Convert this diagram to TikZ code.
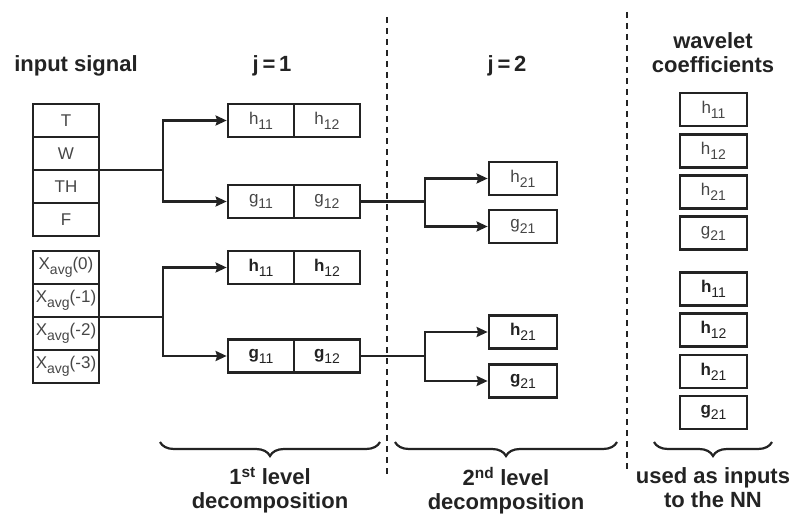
\documentclass[tikz,border=0pt]{standalone}
\usepackage{fontspec}
\setmainfont{Liberation Sans}
\usepackage{tikz}
\usetikzlibrary{arrows.meta,positioning,decorations.pathreplacing}
\definecolor{ink}{RGB}{35,35,35}
\definecolor{txtgray}{RGB}{70,70,70}
\newcommand{\sbs}[1]{\raisebox{-0.3em}{\fontsize{14}{14}\selectfont\mdseries #1}}

\begin{document}
\begin{tikzpicture}[x=1pt,y=-1pt,node distance=5.5pt,
    cell/.style={draw=ink,line width=2.7pt,minimum width=66pt,minimum height=33pt,
                 inner sep=0pt,font=\fontsize{17}{17}\selectfont,text=txtgray},
    incell/.style={cell,outer sep=0pt},
    bcell/.style={cell,font=\fontsize{17}{17}\selectfont\bfseries,text=ink},
    coef/.style={cell,minimum width=67pt},
    bcoef/.style={bcell,minimum width=67pt},
    head/.style={font=\fontsize{22}{24}\selectfont\bfseries,text=ink,inner sep=0pt,align=center},
    line/.style={draw=ink,line width=2.2pt},
    arr/.style={line,-{Stealth[length=11pt,width=10pt,inset=1.5pt]}},
    sep/.style={draw=ink,line width=2.5pt,dash pattern=on 6pt off 5pt},
    brace/.style={draw=ink,line width=2.2pt,decorate,
                  decoration={brace,mirror,amplitude=14pt}}]
  \useasboundingbox (0,0) rectangle (805,516);

  % headers
  \node[head,anchor=base] (hin) at (76,72) {input signal};
  \node[head,anchor=base] (hj1) at (272,72) {j\,=\,1};
  \node[head,anchor=base] (hj2) at (507,72) {j\,=\,2};
  \node[head,anchor=north] (hwc) at (713,32) {wavelet\\coefficients};

  % input signal
  \node[incell] (in1) at (66,120.5) {T};
  \node[incell] (in2) at (66,153.5) {W};
  \node[incell] (in3) at (66,186.5) {TH};
  \node[incell] (in4) at (66,219.5) {F};
  \node[incell] (in5) at (66,267.5) {X\sbs{avg}(0)};
  \node[incell] (in6) at (66,300.5) {X\sbs{avg}(-1)};
  \node[incell] (in7) at (66,333.5) {X\sbs{avg}(-2)};
  \node[incell] (in8) at (66,366.5) {X\sbs{avg}(-3)};

  % j = 1
  \node[cell] (h11a) at (261,120.5) {h\sbs{11}};
  \node[cell] (h12a) at (327,120.5) {h\sbs{12}};
  \node[cell] (g11a) at (261,201.5) {g\sbs{11}};
  \node[cell] (g12a) at (327,201.5) {g\sbs{12}};
  \node[bcell] (h11b) at (261,267.5) {h\sbs{11}};
  \node[bcell] (h12b) at (327,267.5) {h\sbs{12}};
  \node[bcell] (g11b) at (261,356) {g\sbs{11}};
  \node[bcell] (g12b) at (327,356) {g\sbs{12}};

  % j = 2
  \node[cell,minimum width=68pt] (h21a) at (523,178.5) {h\sbs{21}};
  \node[cell,minimum width=68pt] (g21a) at (523,226.5) {g\sbs{21}};
  \node[bcell,minimum width=68pt] (h21b) at (523,332) {h\sbs{21}};
  \node[bcell,minimum width=68pt] (g21b) at (523,381) {g\sbs{21}};

  % wavelet coefficients
  \node[coef] (c1) at (713.5,109.5) {h\sbs{11}};
  \node[coef,below=of c1] (c2) {h\sbs{12}};
  \node[coef,below=of c2] (c3) {h\sbs{21}};
  \node[coef,below=of c3] (c4) {g\sbs{21}};
  \node[bcoef] (c5) at (713.5,289) {h\sbs{11}};
  \node[bcoef,below=of c5] (c6) {h\sbs{12}};
  \node[bcoef,below=of c6] (c7) {h\sbs{21}};
  \node[bcoef,below=of c7] (c8) {g\sbs{21}};

  % connectors
  \draw[line] (in2.south east) -- ++(64,0) coordinate (s1);
  \draw[arr] (s1) |- (h11a);
  \draw[arr] (s1) |- (g11a);
  \draw[line] (in6.south east) -- ++(64,0) coordinate (s2);
  \draw[arr] (s2) |- (h11b);
  \draw[arr] (s2) |- (g11b);
  \draw[line] (g12a.east) -- ++(64,0) coordinate (s3);
  \draw[arr] (s3) |- (h21a);
  \draw[arr] (s3) |- (g21a);
  \draw[line] (g12b.east) -- ++(64,0) coordinate (s4);
  \draw[arr] (s4) |- (h21b);
  \draw[arr] (s4) |- (g21b);

  % separators
  \draw[sep] (387,17) -- (387,478);
  \draw[sep] (627,12) -- (627,473);

  % braces
  \draw[brace] (160,442) -- (380,442);
  \draw[brace] (395,442) -- (617,442);
  \draw[brace] (654,442) -- (772,442);
  \node[head,anchor=north] (l1) at (270,467) {1\textsuperscript{st} level\\decomposition};
  \node[head,anchor=north] (l2) at (506,467) {2\textsuperscript{nd} level\\decomposition};
  \node[head,anchor=north] (l3) at (713,467) {used as inputs\\to the NN};
\end{tikzpicture}
\end{document}
